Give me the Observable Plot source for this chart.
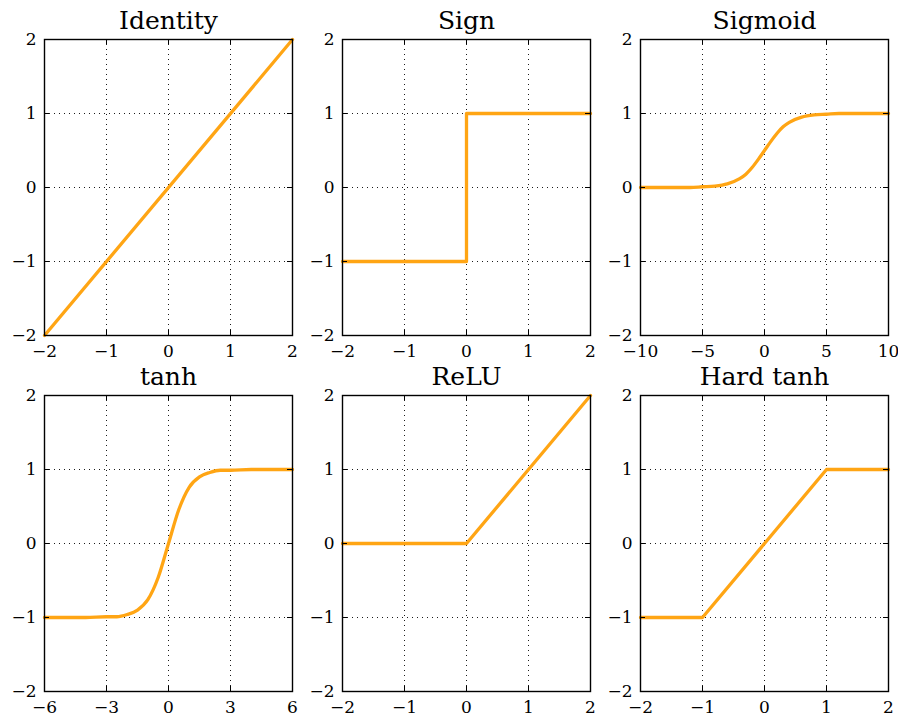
<!DOCTYPE html>
<html>
<head>
<meta charset="utf-8">
<script src="https://cdn.jsdelivr.net/npm/d3@7"></script>
<script src="https://cdn.jsdelivr.net/npm/@observablehq/plot@0.6"></script>
<style>
  html, body { margin: 0; padding: 0; background: #fff; }
  #grid { position: relative; width: 898px; height: 720px; background: #fff; }
  #grid svg { position: absolute; overflow: visible; }
</style>
</head>
<body>
<div id="grid"></div>
<script>
// Panel titles, in reading order
const titles = ["Identity", "Sign", "Sigmoid", "tanh", "ReLU", "Hard tanh"];

// Tick values per panel
const yTicks = [-2, -1, 0, 1, 2];
const ticksUnit = [-2, -1, 0, 1, 2];
const ticksSigmoid = [-10, -5, 0, 5, 10];
const ticksTanh = [-6, -3, 0, 3, 6];

// Curve samples (x, y) for each activation
const identityX = [-2, 2];
const identityY = [-2, 2];

const signX = [-2, 0, 0, 2];
const signY = [-1, -1, 1, 1];

const sigmoidX = [-10, -8, -6, -5, -4, -3, -2, -1.5, -1, -0.5, 0, 0.5, 1, 1.5, 2, 3, 4, 5, 6, 8, 10];
const sigmoidY = [0, 0, 0, 0.01, 0.02, 0.05, 0.12, 0.18, 0.27, 0.38, 0.5, 0.62, 0.73, 0.82, 0.88, 0.95, 0.98, 0.99, 1, 1, 1];

const tanhX = [-6, -4, -3, -2.5, -2, -1.5, -1, -0.5, 0, 0.5, 1, 1.5, 2, 2.5, 3, 4, 6];
const tanhY = [-1, -1, -0.99, -0.99, -0.96, -0.9, -0.76, -0.46, 0, 0.46, 0.76, 0.9, 0.96, 0.99, 0.99, 1, 1];

const reluX = [-2, 0, 2];
const reluY = [0, 0, 2];

const hardTanhX = [-2, -1, 1, 2];
const hardTanhY = [-1, -1, 1, 1];

const panels = [
  {title: titles[0], xs: identityX, ys: identityY, xTicks: ticksUnit, curve: "linear"},
  {title: titles[1], xs: signX, ys: signY, xTicks: ticksUnit, curve: "linear"},
  {title: titles[2], xs: sigmoidX, ys: sigmoidY, xTicks: ticksSigmoid, curve: "monotone-x"},
  {title: titles[3], xs: tanhX, ys: tanhY, xTicks: ticksTanh, curve: "monotone-x"},
  {title: titles[4], xs: reluX, ys: reluY, xTicks: ticksUnit, curve: "linear"},
  {title: titles[5], xs: hardTanhX, ys: hardTanhY, xTicks: ticksUnit, curve: "linear"}
];

const cellW = 298, cellH = 356;
const mL = 44, mT = 39, plotW = 248, plotH = 296;
const svgH = 400;
const font = "'DejaVu Serif', serif";
const tickLen = 5;
const intFormat = d3.format("d");

const container = document.getElementById("grid");

panels.forEach((p, i) => {
  const col = i % 3, row = Math.floor(i / 3);
  const pts = p.xs.map((x, k) => ({x, y: p.ys[k]}));
  const xDomain = [p.xTicks[0], p.xTicks[p.xTicks.length - 1]];
  const dotted = {stroke: "black", strokeOpacity: 1, strokeWidth: 0.9, strokeDasharray: "1,4"};
  const tickStyle = {stroke: "black", strokeWidth: 1};

  const chart = Plot.plot({
    width: cellW,
    height: svgH,
    marginLeft: mL,
    marginRight: cellW - mL - plotW,
    marginTop: mT,
    marginBottom: svgH - mT - plotH,
    style: {background: "transparent", fontFamily: font, fontSize: "17px", color: "black", overflow: "visible"},
    x: {domain: xDomain},
    y: {domain: [-2, 2]},
    marks: [
      Plot.gridX(p.xTicks, dotted),
      Plot.gridY(yTicks, dotted),
      Plot.line(pts, {x: "x", y: "y", stroke: "#ffa514", strokeWidth: 3.3, curve: p.curve}),
      Plot.frame({stroke: "black", strokeWidth: 1.4}),
      // inward ticks on all four sides
      Plot.tickX(p.xTicks, {x: d => d, insetTop: plotH - tickLen, ...tickStyle}),
      Plot.tickX(p.xTicks, {x: d => d, insetBottom: plotH - tickLen, ...tickStyle}),
      Plot.tickY(yTicks, {y: d => d, insetRight: plotW - tickLen, ...tickStyle}),
      Plot.tickY(yTicks, {y: d => d, insetLeft: plotW - tickLen, ...tickStyle}),
      Plot.axisX(p.xTicks, {tickSize: 0, tickPadding: 9, label: null, fontSize: 17, tickFormat: intFormat}),
      Plot.axisY(yTicks, {tickSize: 0, tickPadding: 8, label: null, fontSize: 17, tickFormat: intFormat}),
      Plot.text([p.title], {frameAnchor: "top", dy: -11, lineAnchor: "bottom", fontSize: 25, fill: "black"})
    ]
  });
  chart.style.left = (col * cellW) + "px";
  chart.style.top = (row * cellH) + "px";
  container.appendChild(chart);
});
</script>
</body>
</html>
